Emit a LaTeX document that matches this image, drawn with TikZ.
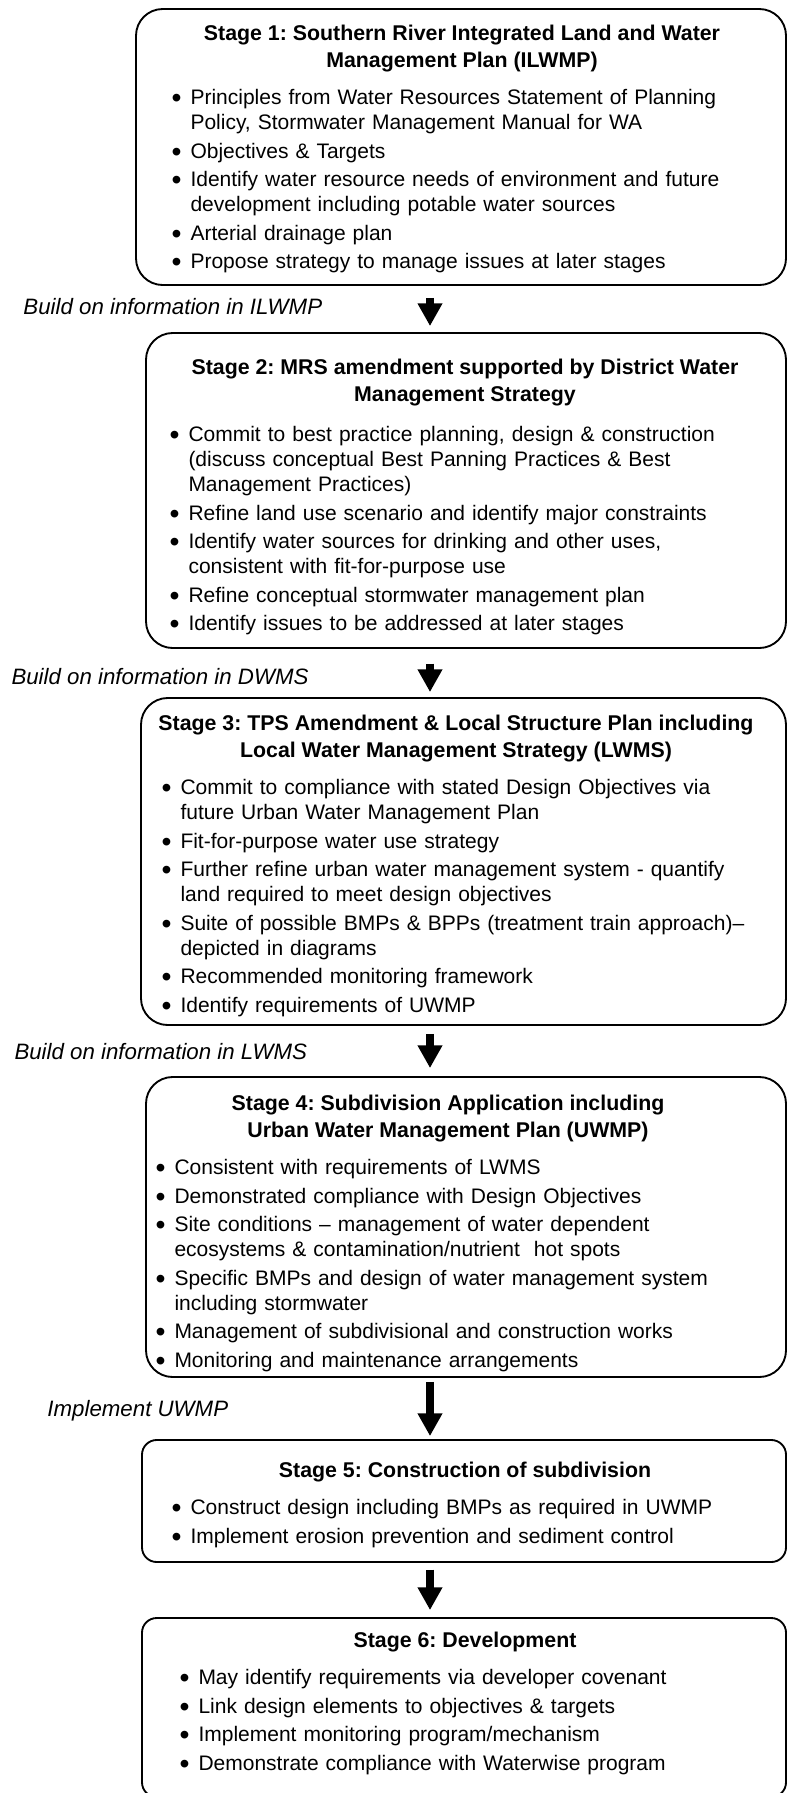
\documentclass[tikz,border=0pt]{standalone}
\usepackage{fontspec}
\setmainfont{Liberation Sans}
\usetikzlibrary{arrows.meta,fit}

\tikzset{every picture/.style={line width=0.75pt}}
\tikzset{
  stage/.style={draw, line width=1.4pt, rounded corners=20pt, inner sep=0pt},
  stagesm/.style={stage, rounded corners=11pt},
  head/.style={anchor=north, align=center, inner sep=0pt,
    font=\fontsize{16}{20.25}\selectfont\bfseries},
  items/.style={anchor=north west, inner sep=0pt, text width=480pt, align=left,
    font=\fontsize{15.75}{18.75}\selectfont, execute at begin node=\itemgaps},
  note/.style={anchor=north west, inner sep=0pt,
    font=\fontsize{16.7}{18.75}\selectfont\itshape},
  flow/.style={line width=6pt, -{Triangle[width=17.5pt,length=17pt]}},
}
\newcommand{\itemgaps}{\parindent=0pt\parskip=2.6pt\relax}
\newcommand{\bul}{\par\noindent\llap{\raisebox{-0.13em}{\scalebox{1.35}{\textbullet}}\hspace{6.8pt}}}
\frenchspacing

\begin{document}
\begin{tikzpicture}[x=0.75pt,y=0.75pt,yscale=-1,xscale=1]
        \useasboundingbox (0,0) rectangle (788,1793);
        \coordinate (ax) at (430,0);
        % stage boxes
        \node[stage, fit={(136,9) (786,285)}] (s1) {};
        \node[stage, fit={(146,333) (786,648)}] (s2) {};
        \node[stage, fit={(141,698) (786,1025)}] (s3) {};
        \node[stage, fit={(146,1077) (786,1377)}] (s4) {};
        \node[stagesm, fit={(142,1440) (786,1562)}] (s5) {};
        \node[stagesm, fit={(142,1618) (786,1797)}] (s6) {};
        % stage 1
        \node[head] (s1h) at (462,25) {Stage 1: Southern River Integrated Land and Water\\Management Plan (ILWMP)};
        \node[items] (s1i) at (190,76) {%
          \bul Principles from Water Resources Statement of Planning\newline Policy, Stormwater Management Manual for WA
          \bul Objectives \& Targets
          \bul Identify water resource needs of environment and future\newline development including potable water sources
          \bul Arterial drainage plan
          \bul Propose strategy to manage issues at later stages};
        % stage 2
        \node[head] (s2h) at (465,359) {Stage 2: MRS amendment supported by District Water\\Management Strategy};
        \node[items] (s2i) at (188,413) {%
          \bul Commit to best practice planning, design \& construction\newline (discuss conceptual Best Panning Practices \& Best\newline Management Practices)
          \bul Refine land use scenario and identify major constraints
          \bul Identify water sources for drinking and other uses,\newline consistent with fit-for-purpose use
          \bul Refine conceptual stormwater management plan
          \bul Identify issues to be addressed at later stages};
        % stage 3
        \node[head] (s3h) at (456,715) {Stage 3: TPS Amendment \& Local Structure Plan including\\Local Water Management Strategy (LWMS)};
        \node[items] (s3i) at (180,766) {%
          \bul Commit to compliance with stated Design Objectives via\newline future Urban Water Management Plan
          \bul Fit-for-purpose water use strategy
          \bul Further refine urban water management system - quantify\newline land required to meet design objectives
          \bul Suite of possible BMPs \& BPPs (treatment train approach)–\newline depicted in diagrams
          \bul Recommended monitoring framework
          \bul Identify requirements of UWMP};
        % stage 4
        \node[head] (s4h) at (448,1095) {Stage 4: Subdivision Application including\\Urban Water Management Plan (UWMP)};
        \node[items] (s4i) at (174,1146) {%
          \bul Consistent with requirements of LWMS
          \bul Demonstrated compliance with Design Objectives
          \bul Site conditions – management of water dependent\newline ecosystems \& contamination/nutrient\ \ hot spots
          \bul Specific BMPs and design of water management system\newline including stormwater
          \bul Management of subdivisional and construction works
          \bul Monitoring and maintenance arrangements};
        % stage 5
        \node[head] (s5h) at (465,1462) {Stage 5: Construction of subdivision};
        \node[items] (s5i) at (190,1486) {%
          \bul Construct design including BMPs as required in UWMP
          \bul Implement erosion prevention and sediment control};
        % stage 6
        \node[head] (s6h) at (465,1632) {Stage 6: Development};
        \node[items] (s6i) at (198,1656) {%
          \bul May identify requirements via developer covenant
          \bul Link design elements to objectives \& targets
          \bul Implement monitoring program/mechanism
          \bul Demonstrate compliance with Waterwise program};
        % notes beside the arrows
        \node[note] (n1) at (23,298) {Build on information in ILWMP};
        \node[note] (n2) at (11,668) {Build on information in DWMS};
        \node[note] (n3) at (14,1043) {Build on information in LWMS};
        \node[note] (n4) at (47,1400) {Implement UWMP};
        % arrows
        \draw[flow] ([yshift=9pt]s1.south -| ax) -- ([yshift=-4.5pt]s2.north -| ax);
        \draw[flow] ([yshift=11pt]s2.south -| ax) -- ([yshift=-3.75pt]s3.north -| ax);
        \draw[flow] ([yshift=6pt]s3.south -| ax) -- ([yshift=-6pt]s4.north -| ax);
        \draw[flow] ([yshift=3pt]s4.south -| ax) -- ([yshift=-2.25pt]s5.north -| ax);
        \draw[flow] ([yshift=5pt]s5.south -| ax) -- ([yshift=-5.25pt]s6.north -| ax);
\end{tikzpicture}
\end{document}
